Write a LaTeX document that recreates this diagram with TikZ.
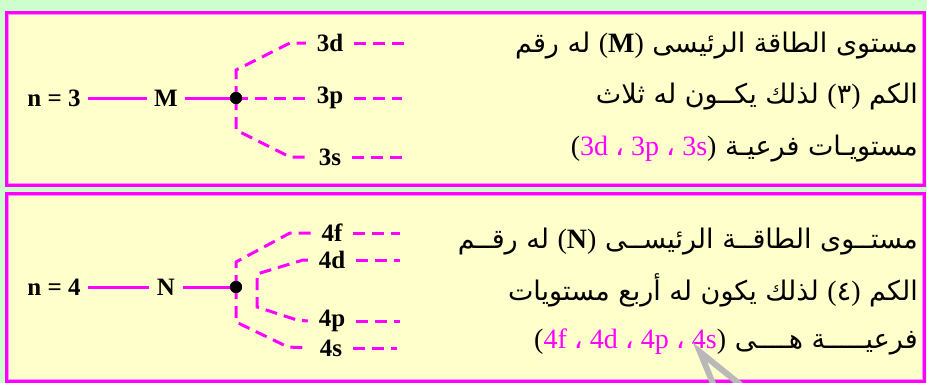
\documentclass[tikz,border=0pt]{standalone}
\usepackage{fontspec}
\setmainfont{Liberation Serif}
\newfontfamily\arabicfont[Script=Arabic]{DejaVu Sans}
\TeXXeTstate=1
\usetikzlibrary{positioning}
\definecolor{bgGreen}{HTML}{CCFFCC}
\definecolor{boxYellow}{HTML}{FFFFCC}
\definecolor{levelPink}{HTML}{FF00FF}
\newcommand{\ar}{\arabicfont}
\newcommand{\lt}{\rmfamily\fontsize{28}{32}\selectfont}
\newcommand{\pk}[1]{\textcolor{levelPink}{#1}}
\newcommand{\fasla}{{\ar\color{levelPink}،}}

\begin{document}
\begin{tikzpicture}[
    x=1pt, y=-1pt,
    panel/.style={draw=levelPink, line width=3pt, fill=boxYellow},
    panelrim/.style={draw=levelPink!45, line width=1pt},
    lvl/.style={font=\fontsize{25}{29}\selectfont\bfseries, inner sep=7.5pt, outer sep=0pt},
    sub/.style={font=\fontsize{25}{29}\selectfont\bfseries, inner sep=11pt, outer sep=0pt},
    nucleus/.style={circle, fill=black, inner sep=0pt, minimum size=12pt},
    artext/.style={anchor=base east, inner sep=0pt, font=\fontsize{27}{32}\selectfont},
    solidline/.style={draw=levelPink, line width=3pt},
    dashline/.style={draw=levelPink, line width=3pt, dash pattern=on 12pt off 7pt}
  ]
    \fill[bgGreen] (0,0) rectangle (927,383);
    \useasboundingbox (0,0) rectangle (927,383);
    \draw[panel] (6.5,12.5) rectangle (924.5,185.5);
    \draw[panelrim] (8.5,14.5) rectangle (922.5,183.5);
    \draw[panel] (6.5,193.5) rectangle (924.5,381.5);
    \draw[panelrim] (8.5,195.5) rectangle (922.5,379.5);

    % shell M
    \node[lvl] (n3) at (54,98) {n = 3};
    \node[lvl] (M)  at (166,98) {M};
    \node[nucleus] (dotM) at (236,98) {};
    \node[sub] (s3d) at (330,43)  {3d};
    \node[sub] (s3p) at (330,98)  {3p};
    \node[sub] (s3s) at (330,157) {3s};
    \coordinate (k3d1) at (236,70);  \coordinate (k3d2) at (290,43);
    \coordinate (k3s1) at (236,130); \coordinate (k3s2) at (290,157);
    \coordinate (e3d) at (404,43);
    \coordinate (e3p) at (402,98);
    \coordinate (e3s) at (402,157);

    % shell N
    \node[lvl] (n4) at (54,287) {n = 4};
    \node[lvl] (N)  at (166,287) {N};
    \node[nucleus] (dotN) at (236,287) {};
    \node[sub] (s4f) at (332,233) {4f};
    \node[sub] (s4d) at (332,260) {4d};
    \node[sub] (s4p) at (332,321) {4p};
    \node[sub] (s4s) at (331,348) {4s};
    \coordinate (k4f1) at (236,262); \coordinate (k4f2) at (290,233);
    \coordinate (k4d1) at (257,274); \coordinate (k4d2) at (303,260);
    \coordinate (k4p1) at (257,307); \coordinate (k4p2) at (297,320);
    \coordinate (k4s1) at (236,322); \coordinate (k4s2) at (288,347);
    \coordinate (e4f) at (400,233);
    \coordinate (e4d) at (400,260);
    \coordinate (e4p) at (400,321);
    \coordinate (e4s) at (397,348);

    \begin{scope}
      \draw[solidline] (n3) -- (M);
      \draw[solidline] (M) -- (dotM.center);
      \draw[dashline] (dotM.center) -- (k3d1) -- (k3d2) -- (s3d.west);
      \draw[dashline] (dotM.center) -- (s3p.west);
      \draw[dashline] (dotM.center) -- (k3s1) -- (k3s2) -- (s3s.west);
      \draw[dashline] (s3d.east) -- (e3d);
      \draw[dashline] (s3p.east) -- (e3p);
      \draw[dashline] (s3s.east) -- (e3s);

      \draw[solidline] (n4) -- (N);
      \draw[solidline] (N) -- (dotN.center);
      \draw[dashline] (dotN.center) -- (k4f1) -- (k4f2) -- (s4f.west);
      \draw[dashline] (s4d.west) -- (k4d2) -- (k4d1) -- (k4p1) -- (k4p2) -- (s4p.west);
      \draw[dashline] (dotN.center) -- (k4s1) -- (k4s2) -- (s4s.west);
      \draw[dashline] (s4f.east) -- (e4f);
      \draw[dashline] (s4d.east) -- (e4d);
      \draw[dashline] (s4p.east) -- (e4p);
      \draw[dashline] (s4s.east) -- (e4s);
    \end{scope}
    \node[nucleus] at (dotM) {};
    \node[nucleus] at (dotN) {};

    % text of panel M
    \node[artext] (tM1) at (918,52)  {\ar\beginR مستوى الطاقة الرئيسى \beginL{\lt(\textbf{M})}\endL{} له رقم\endR};
    \node[artext] (tM2) at (918,103) {\ar\beginR الكم \beginL{\lt(}{\ar ٣}{\lt)}\endL{} لذلك يكــون له ثلاث\endR};
    \node[artext] (tM3) at (918,155) {\ar\beginR مستويـات فرعيـة \beginL{\lt(\pk{3d \fasla{} 3p \fasla{} 3s})}\endL\endR};

    % text of panel N
    \node[artext] (tN1) at (918,248) {\ar\beginR مستــوى الطاقــة الرئيســى \beginL{\lt(\textbf{N})}\endL{} له رقــم\endR};
    \node[artext] (tN2) at (918,300) {\ar\beginR الكم \beginL{\lt(}{\ar ٤}{\lt)}\endL{} لذلك يكون له أربع مستويات\endR};
    \node[artext] (tN3) at (918,348) {\ar\beginR فرعيـــــة هــــى \beginL{\lt(\pk{4f \fasla{} 4d \fasla{} 4p \fasla{} 4s})}\endL\endR};

    % pointer
    \coordinate (tip) at (700,352);
    \coordinate (legA) at (714,386);
    \coordinate (legB) at (742,386);
    \draw[gray!55, line width=6pt] (legA) -- (tip) -- (legB);
\end{tikzpicture}
\end{document}
